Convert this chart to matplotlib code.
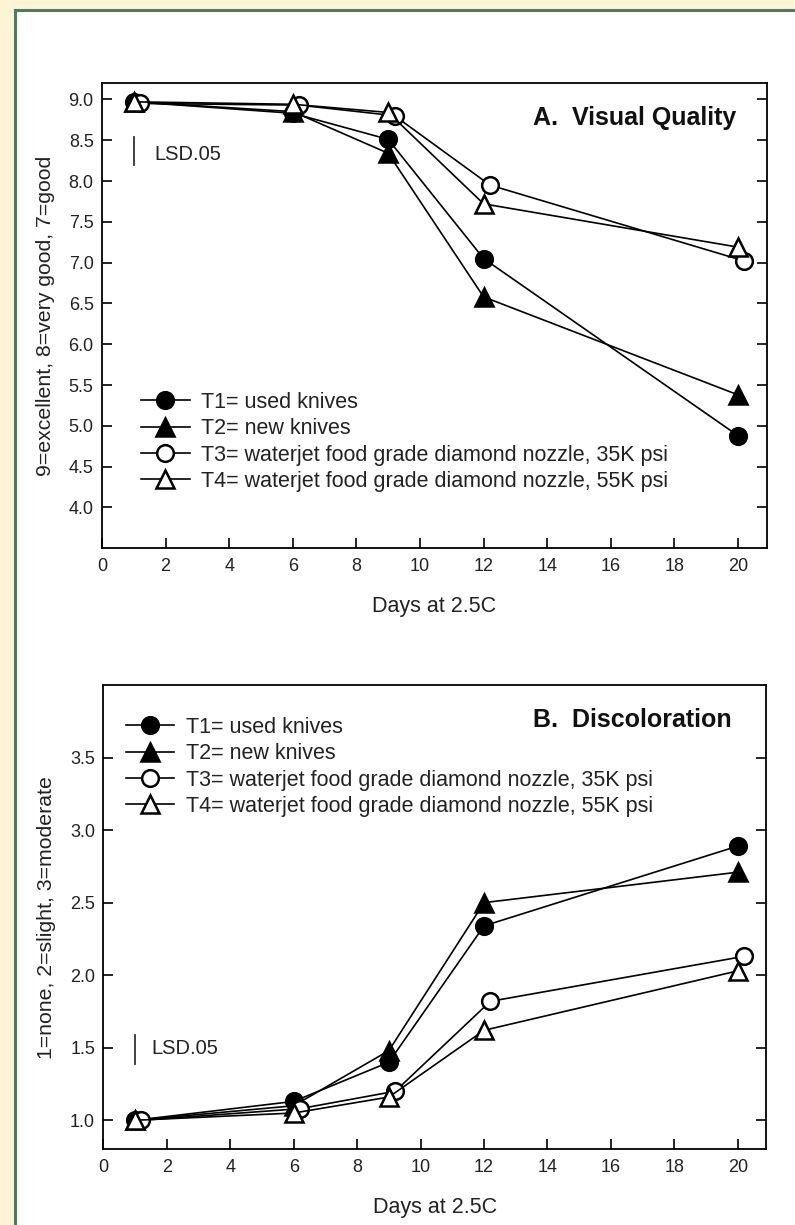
import matplotlib
matplotlib.use("Agg")
import matplotlib.pyplot as plt
from matplotlib.patches import Rectangle

plt.rcParams['font.family'] = ['Liberation Sans', 'DejaVu Sans']

# data
days = [1, 6, 9, 12, 20]
days_t3 = [1.2, 6.2, 9.2, 12.2, 20.2]

qual_t1 = [8.97, 8.83, 8.51, 7.05, 4.88]
qual_t2 = [8.97, 8.85, 8.34, 6.58, 5.38]
qual_t3 = [8.95, 8.93, 8.80, 7.95, 7.02]
qual_t4 = [8.97, 8.94, 8.84, 7.72, 7.19]

disc_t1 = [1.0, 1.13, 1.40, 2.34, 2.89]
disc_t2 = [1.0, 1.10, 1.48, 2.50, 2.71]
disc_t3 = [1.0, 1.08, 1.20, 1.82, 2.13]
disc_t4 = [1.0, 1.05, 1.16, 1.62, 2.03]

labels = ['T1= used knives', 'T2= new knives',
          'T3= waterjet food grade diamond nozzle, 35K psi',
          'T4= waterjet food grade diamond nozzle, 55K psi']

xticks = [0, 2, 4, 6, 8, 10, 12, 14, 16, 18, 20]
yticks_a = [4.0, 4.5, 5.0, 5.5, 6.0, 6.5, 7.0, 7.5, 8.0, 8.5, 9.0]
yticks_b = [1.0, 1.5, 2.0, 2.5, 3.0, 3.5]

fig = plt.figure(figsize=(7.95, 12.25), dpi=100)
fig.patch.set_facecolor('#fdf4d6')
# white panel with green edge on the left and top
fig.patches.append(Rectangle((16 / 795, 0), 1.0, 1 - 11 / 1225, transform=fig.transFigure,
                             facecolor='white', edgecolor='none', zorder=-10))
fig.lines.append(plt.Line2D([15 / 795, 15 / 795], [0, 1 - 10 / 1225], transform=fig.transFigure,
                            color='#4f7a5c', lw=2.2, zorder=-5))
fig.lines.append(plt.Line2D([15 / 795, 1], [1 - 10 / 1225, 1 - 10 / 1225], transform=fig.transFigure,
                            color='#4f7a5c', lw=2.2, zorder=-5))

ax1 = fig.add_axes([0.1283, 0.5524, 0.836, 0.3798])
ax2 = fig.add_axes([0.1300, 0.0618, 0.834, 0.3790])

styles = [dict(marker='o', mfc='black'), dict(marker='^', mfc='black'),
          dict(marker='o', mfc='white'), dict(marker='^', mfc='white')]


def draw(ax, series, xs_list):
    handles = []
    for ys, xs, st in zip(series, xs_list, styles):
        ms = 12 if st['marker'] == 'o' else 13
        h, = ax.plot(xs, ys, color='black', lw=1.2, marker=st['marker'], mfc=st['mfc'],
                     mec='black', mew=1.8, ms=ms, clip_on=False)
        handles.append(h)
    ax.set_xlim(0, 20.9)
    ax.set_xticks(xticks)
    ax.tick_params(axis='both', direction='in', length=7, width=1.2, labelsize=13,
                   labelcolor='#222222', pad=7)
    ax.tick_params(axis='y', right=True, pad=6)
    for s in ax.spines.values():
        s.set_linewidth(1.3)
    ax.set_xlabel('Days at 2.5C', fontsize=15.5, color='#222222', labelpad=15)
    return handles


xs_list = [days, days, days_t3, days]
leg_font = {'size': 15.5}

h1 = draw(ax1, [qual_t1, qual_t2, qual_t3, qual_t4], xs_list)
ax1.set_ylim(3.5, 9.2)
ax1.set_yticks(yticks_a)
ax1.set_yticklabels([f'{v:.1f}' for v in yticks_a])
ax1.set_ylabel('9=excellent, 8=very good, 7=good', fontsize=15.3, color='#222222', labelpad=10)
ax1.text(0.955, 0.925, 'A.  Visual Quality', transform=ax1.transAxes, ha='right', va='center',
         fontsize=18, fontweight='bold', color='#111111')
ax1.plot([1.0, 1.0], [8.2, 8.54], color='#333333', lw=1.3)
ax1.text(1.66, 8.32, 'LSD.05', fontsize=14.5, va='center', color='#222222')
ax1.legend(h1, labels, loc='upper left', bbox_to_anchor=(0.046, 0.355), frameon=False,
           prop=leg_font, handlelength=2.25, handletextpad=0.55, labelspacing=0.25,
           borderaxespad=0, labelcolor='#222222')

h2 = draw(ax2, [disc_t1, disc_t2, disc_t3, disc_t4], xs_list)
ax2.set_ylim(0.8, 4.0)
ax2.set_yticks(yticks_b)
ax2.set_yticklabels([f'{v:.1f}' for v in yticks_b])
ax2.set_ylabel('1=none, 2=slight, 3=moderate', fontsize=15.3, color='#222222', labelpad=10)
ax2.text(0.948, 0.925, 'B.  Discoloration', transform=ax2.transAxes, ha='right', va='center',
         fontsize=18, fontweight='bold', color='#111111')
ax2.plot([1.0, 1.0], [1.39, 1.585], color='#333333', lw=1.3)
ax2.text(1.5, 1.495, 'LSD.05', fontsize=14.5, va='center', color='#222222')
ax2.legend(h2, labels, loc='upper left', bbox_to_anchor=(0.021, 0.95), frameon=False,
           prop=leg_font, handlelength=2.25, handletextpad=0.55, labelspacing=0.25,
           borderaxespad=0, labelcolor='#222222')

fig.savefig('out.png', dpi=100, facecolor=fig.get_facecolor())
